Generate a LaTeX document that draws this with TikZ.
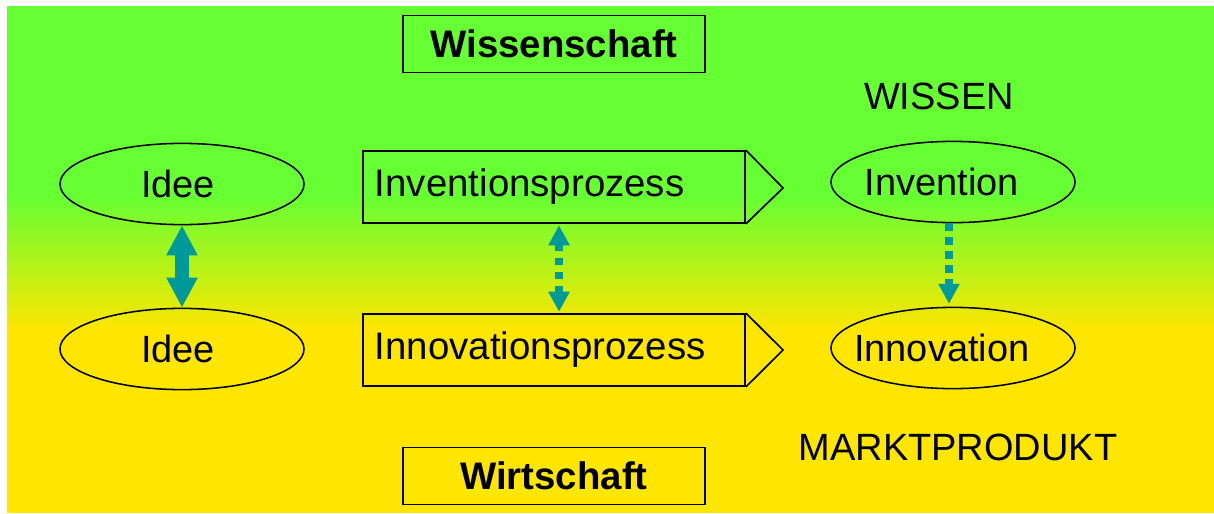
\documentclass[tikz,border=0pt]{standalone}
\usepackage{fontspec}
\setmainfont{Liberation Sans}
\usetikzlibrary{positioning}
\usetikzlibrary{shapes.geometric, arrows.meta}
\definecolor{bgGreen}{RGB}{102,255,51}
\definecolor{bgYellow}{RGB}{255,230,0}
\definecolor{arrowTeal}{RGB}{0,153,153}
\tikzset{
    objEllipse/.style={ellipse, minimum width=6.1cm, minimum height=2.03cm, inner sep=0pt, draw=black, line width=1.1pt},
    objTitle/.style={rectangle, minimum width=7.55cm, minimum height=1.43cm, inner sep=0pt, draw=black, line width=1.2pt, font=\fontsize{27.3}{31}\selectfont\bfseries},
    objProcess/.style={rectangle, minimum width=9.55cm, minimum height=1.8cm, inner xsep=0.3cm, text width=8.95cm, align=left, draw=black, line width=1.2pt, font=\fontsize{27.3}{31}\selectfont},
    objLabel/.style={inner sep=0pt, font=\fontsize{27}{31}\selectfont},
    bigTip/.tip={Triangle[width=0.73cm, length=0.75cm]},
    dotTip/.tip={Triangle[width=0.5cm, length=0.5cm]},
    bigArrow/.style={arrowTeal, line width=0.33cm, {bigTip}-{bigTip}},
    dotArrow/.style={arrowTeal, line width=0.18cm, dash pattern=on 0.18cm off 0.17cm}
}

\begin{document}
\begin{tikzpicture}[x=0.025cm, y=-0.025cm]
    \useasboundingbox (0,0) rectangle (1214,513);
    % background
    \fill[white] (0,0) rectangle (1214,513);
    \fill[bgGreen] (7,6) rectangle (1214,197);
    \shade[top color=bgGreen, bottom color=bgYellow] (7,196) rectangle (1214,331);
    \fill[bgYellow] (7,330) rectangle (1214,513);

    \node (wiss) [objTitle] at (554,44) {Wissenschaft};
    \node (wirt) [objTitle] at (554,476) {Wirtschaft};
    \node (wissen) [objLabel] at (939,96) {WISSEN};
    \node (markt) [objLabel] at (958,447) {MARKTPRODUKT};

    \node (ideeA) [objEllipse, label={[objLabel, xshift=-0.1cm]center:Idee}] at (182,184) {};
    \node (ideeB) [objEllipse, label={[objLabel, xshift=-0.1cm]center:Idee}] at (182,349) {};
    \node (inv) [objEllipse, label={[objLabel, xshift=-0.28cm]center:Invention}] at (953,182) {};
    \node (inno) [objEllipse, label={[objLabel, xshift=-0.28cm]center:Innovation}] at (953,348) {};

    \node (invp) [objProcess] at (554,187) {Inventionsprozess};
    \node (innp) [objProcess] at (554,350) {Innovationsprozess};
    \coordinate (invtip) at (783,188);
    \coordinate (innptip) at (783,350);
    \draw [line width=1.2pt] (invp.north east) -- (invtip) -- (invp.south east);
    \draw [line width=1.2pt] (innp.north east) -- (innptip) -- (innp.south east);

    \draw [bigArrow] (ideeA.south) -- (ideeB.north);
    \draw [dotArrow, {dotTip}-{dotTip}, shorten <=1pt, shorten >=1pt] ([xshift=0.125cm]invp.south) -- ([xshift=0.125cm]innp.north);
    \draw [dotArrow, -{dotTip}, shorten >=2pt] ([xshift=-0.1cm]inv.south) -- ([xshift=-0.1cm]inno.north);

\end{tikzpicture}
\end{document}
